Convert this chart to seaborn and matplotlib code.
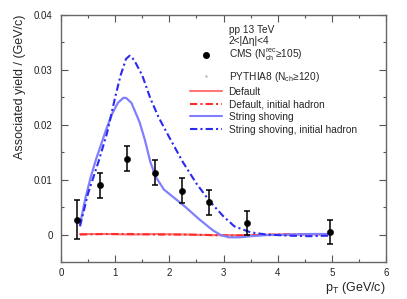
import numpy as np
import pandas as pd
import seaborn as sns
import matplotlib
matplotlib.use("Agg")
import matplotlib.pyplot as plt
from matplotlib.lines import Line2D
from matplotlib.ticker import MultipleLocator, FuncFormatter

# CMS data
cms_pt = [0.3, 0.72, 1.22, 1.73, 2.23, 2.73, 3.43, 4.96]
cms_yield = [0.0027, 0.0090, 0.0138, 0.0113, 0.0080, 0.0059, 0.0021, 0.0004]
cms_err = [0.0036, 0.0023, 0.0023, 0.0023, 0.0023, 0.0023, 0.0022, 0.0022]

# PYTHIA8 curves
shov_pt = [0.35, 0.45, 0.55, 0.65, 0.75, 0.85, 0.95, 1.05, 1.15, 1.2, 1.3, 1.45, 1.55,
           1.65, 1.75, 1.9, 2.1, 2.3, 2.55, 2.8, 2.95, 3.1, 3.3, 3.5, 3.8, 4.2, 4.6, 4.95]
shov_yield = [0.0018, 0.0066, 0.0105, 0.0138, 0.0167, 0.0196, 0.0221, 0.0240, 0.0249, 0.0249,
              0.0240, 0.0205, 0.0172, 0.0132, 0.0105, 0.0082, 0.0066, 0.0050, 0.0028, 0.0008,
              -0.0001, -0.0005, -0.0005, -0.0003, -0.0001, 0.0000, 0.0001, 0.0001]

shovini_pt = [0.35, 0.5, 0.7, 0.85, 1.0, 1.1, 1.2, 1.27, 1.35, 1.5, 1.65, 1.8, 2.0, 2.25,
              2.5, 2.75, 3.0, 3.2, 3.5, 3.8, 4.2, 4.6, 4.95]
shovini_yield = [0.0015, 0.0075, 0.0135, 0.0185, 0.0250, 0.0290, 0.0320, 0.0326, 0.0318,
                 0.0290, 0.0248, 0.0214, 0.0177, 0.0132, 0.0093, 0.0060, 0.0033, 0.0015,
                 0.0004, 0.0000, -0.0002, -0.0003, -0.0002]

def_pt = [0.35, 0.8, 1.3, 1.8, 2.3, 2.8, 3.2, 3.6, 4.0, 4.5, 4.95]
def_yield = [0.0001, 0.0001, 0.0000, 0.0001, 0.0000, -0.0001, -0.0001, -0.0001, 0.0000, 0.0000, 0.0001]
defini_yield = [0.0000, 0.0001, 0.0001, 0.0000, 0.0000, -0.0001, -0.0002, -0.0001, 0.0000, 0.0001, 0.0000]

header_labels = ["pp 13 TeV", "2<|Δη|<4", r"CMS (N$_{\mathregular{ch}}^{\mathregular{rec}}$≥105)"]
model_labels = [r"PYTHIA8 (N$_{\mathregular{ch}}$≥120)", "Default", "Default, initial hadron",
                "String shoving", "String shoving, initial hadron"]

sns.set_theme(style="ticks")
plt.rcParams['font.family'] = ['Liberation Sans', 'DejaVu Sans']
plt.rcParams['mathtext.fontset'] = 'custom'
plt.rcParams['mathtext.rm'] = 'Liberation Sans'
plt.rcParams['mathtext.it'] = 'Liberation Sans'

fig = plt.figure(figsize=(4.07, 2.99), dpi=100)
ax = fig.add_axes([61/407, 1-262/299, (386-61)/407, (262-15)/299])

c_red1 = "#ff7878"
c_red2 = "#ff2a2a"
c_blue1 = "#8080ff"
c_blue2 = "#2a2af0"
dd = (0, (3.5, 1.5, 1, 1.5))

sns.lineplot(x=def_pt, y=def_yield, ax=ax, color=c_red1, lw=1.5)
sns.lineplot(x=def_pt, y=defini_yield, ax=ax, color=c_red2, lw=1.5, linestyle=dd)
sns.lineplot(x=shov_pt, y=shov_yield, ax=ax, color=c_blue1, lw=1.6)
sns.lineplot(x=shovini_pt, y=shovini_yield, ax=ax, color=c_blue2, lw=1.5, linestyle=dd)

ax.errorbar(cms_pt, cms_yield, yerr=cms_err, fmt='none', ecolor='black', elinewidth=1.1, capsize=2, capthick=1.1, zorder=5)
sns.scatterplot(x=cms_pt, y=cms_yield, ax=ax, color='black', s=20, edgecolor='black', zorder=6)

ax.set_xlim(0, 6)
ax.set_ylim(-0.005, 0.04)
ax.xaxis.set_major_locator(MultipleLocator(1))
ax.xaxis.set_minor_locator(MultipleLocator(0.5))
ax.yaxis.set_major_locator(MultipleLocator(0.01))
ax.yaxis.set_minor_locator(MultipleLocator(0.005))
ax.yaxis.set_major_formatter(FuncFormatter(lambda v, p: "0" if abs(v) < 1e-9 else f"{v:.2f}"))
ax.tick_params(which='both', direction='in', top=True, right=True, labelsize=7, colors='#222222')
ax.tick_params(which='major', length=5, width=0.8, color='#555555')
ax.tick_params(which='minor', length=2.5, width=0.8, color='#555555')
ax.tick_params(axis='y', pad=6)
ax.tick_params(axis='x', pad=4)
for s in ax.spines.values():
    s.set_color('#666666')
    s.set_linewidth(1.0)

ax.set_xlabel(r"p$_{\mathregular{T}}$ (GeV/c)", fontsize=9, loc='right', labelpad=2)
ax.set_ylabel("Associated yield / (GeV/c)", fontsize=9, loc='top', labelpad=6)

blank = Line2D([], [], linestyle='none')
h1 = [blank, blank, Line2D([], [], linestyle='none', marker='o', color='black', markersize=4)]
h2 = [Line2D([], [], linestyle='none', marker='.', color='#bbbbbb', markersize=1.5),
      Line2D([], [], color=c_red1, lw=1.5),
      Line2D([], [], color=c_red2, lw=1.5, linestyle=dd),
      Line2D([], [], color=c_blue1, lw=1.5),
      Line2D([], [], color=c_blue2, lw=1.5, linestyle=dd)]
common = dict(loc='upper left', frameon=False, fontsize=7.3, handlelength=3.2, handletextpad=0.6,
              borderpad=0, borderaxespad=0)
leg1 = ax.legend(h1, header_labels, bbox_to_anchor=((190-61)/325, 1 - 10/247), labelspacing=0.1, **common)
ax.add_artist(leg1)
leg2 = ax.legend(h2, model_labels, bbox_to_anchor=((190-61)/325, 1 - 55/247), labelspacing=0.26, **common)

fig.savefig("out.png", dpi=100)
